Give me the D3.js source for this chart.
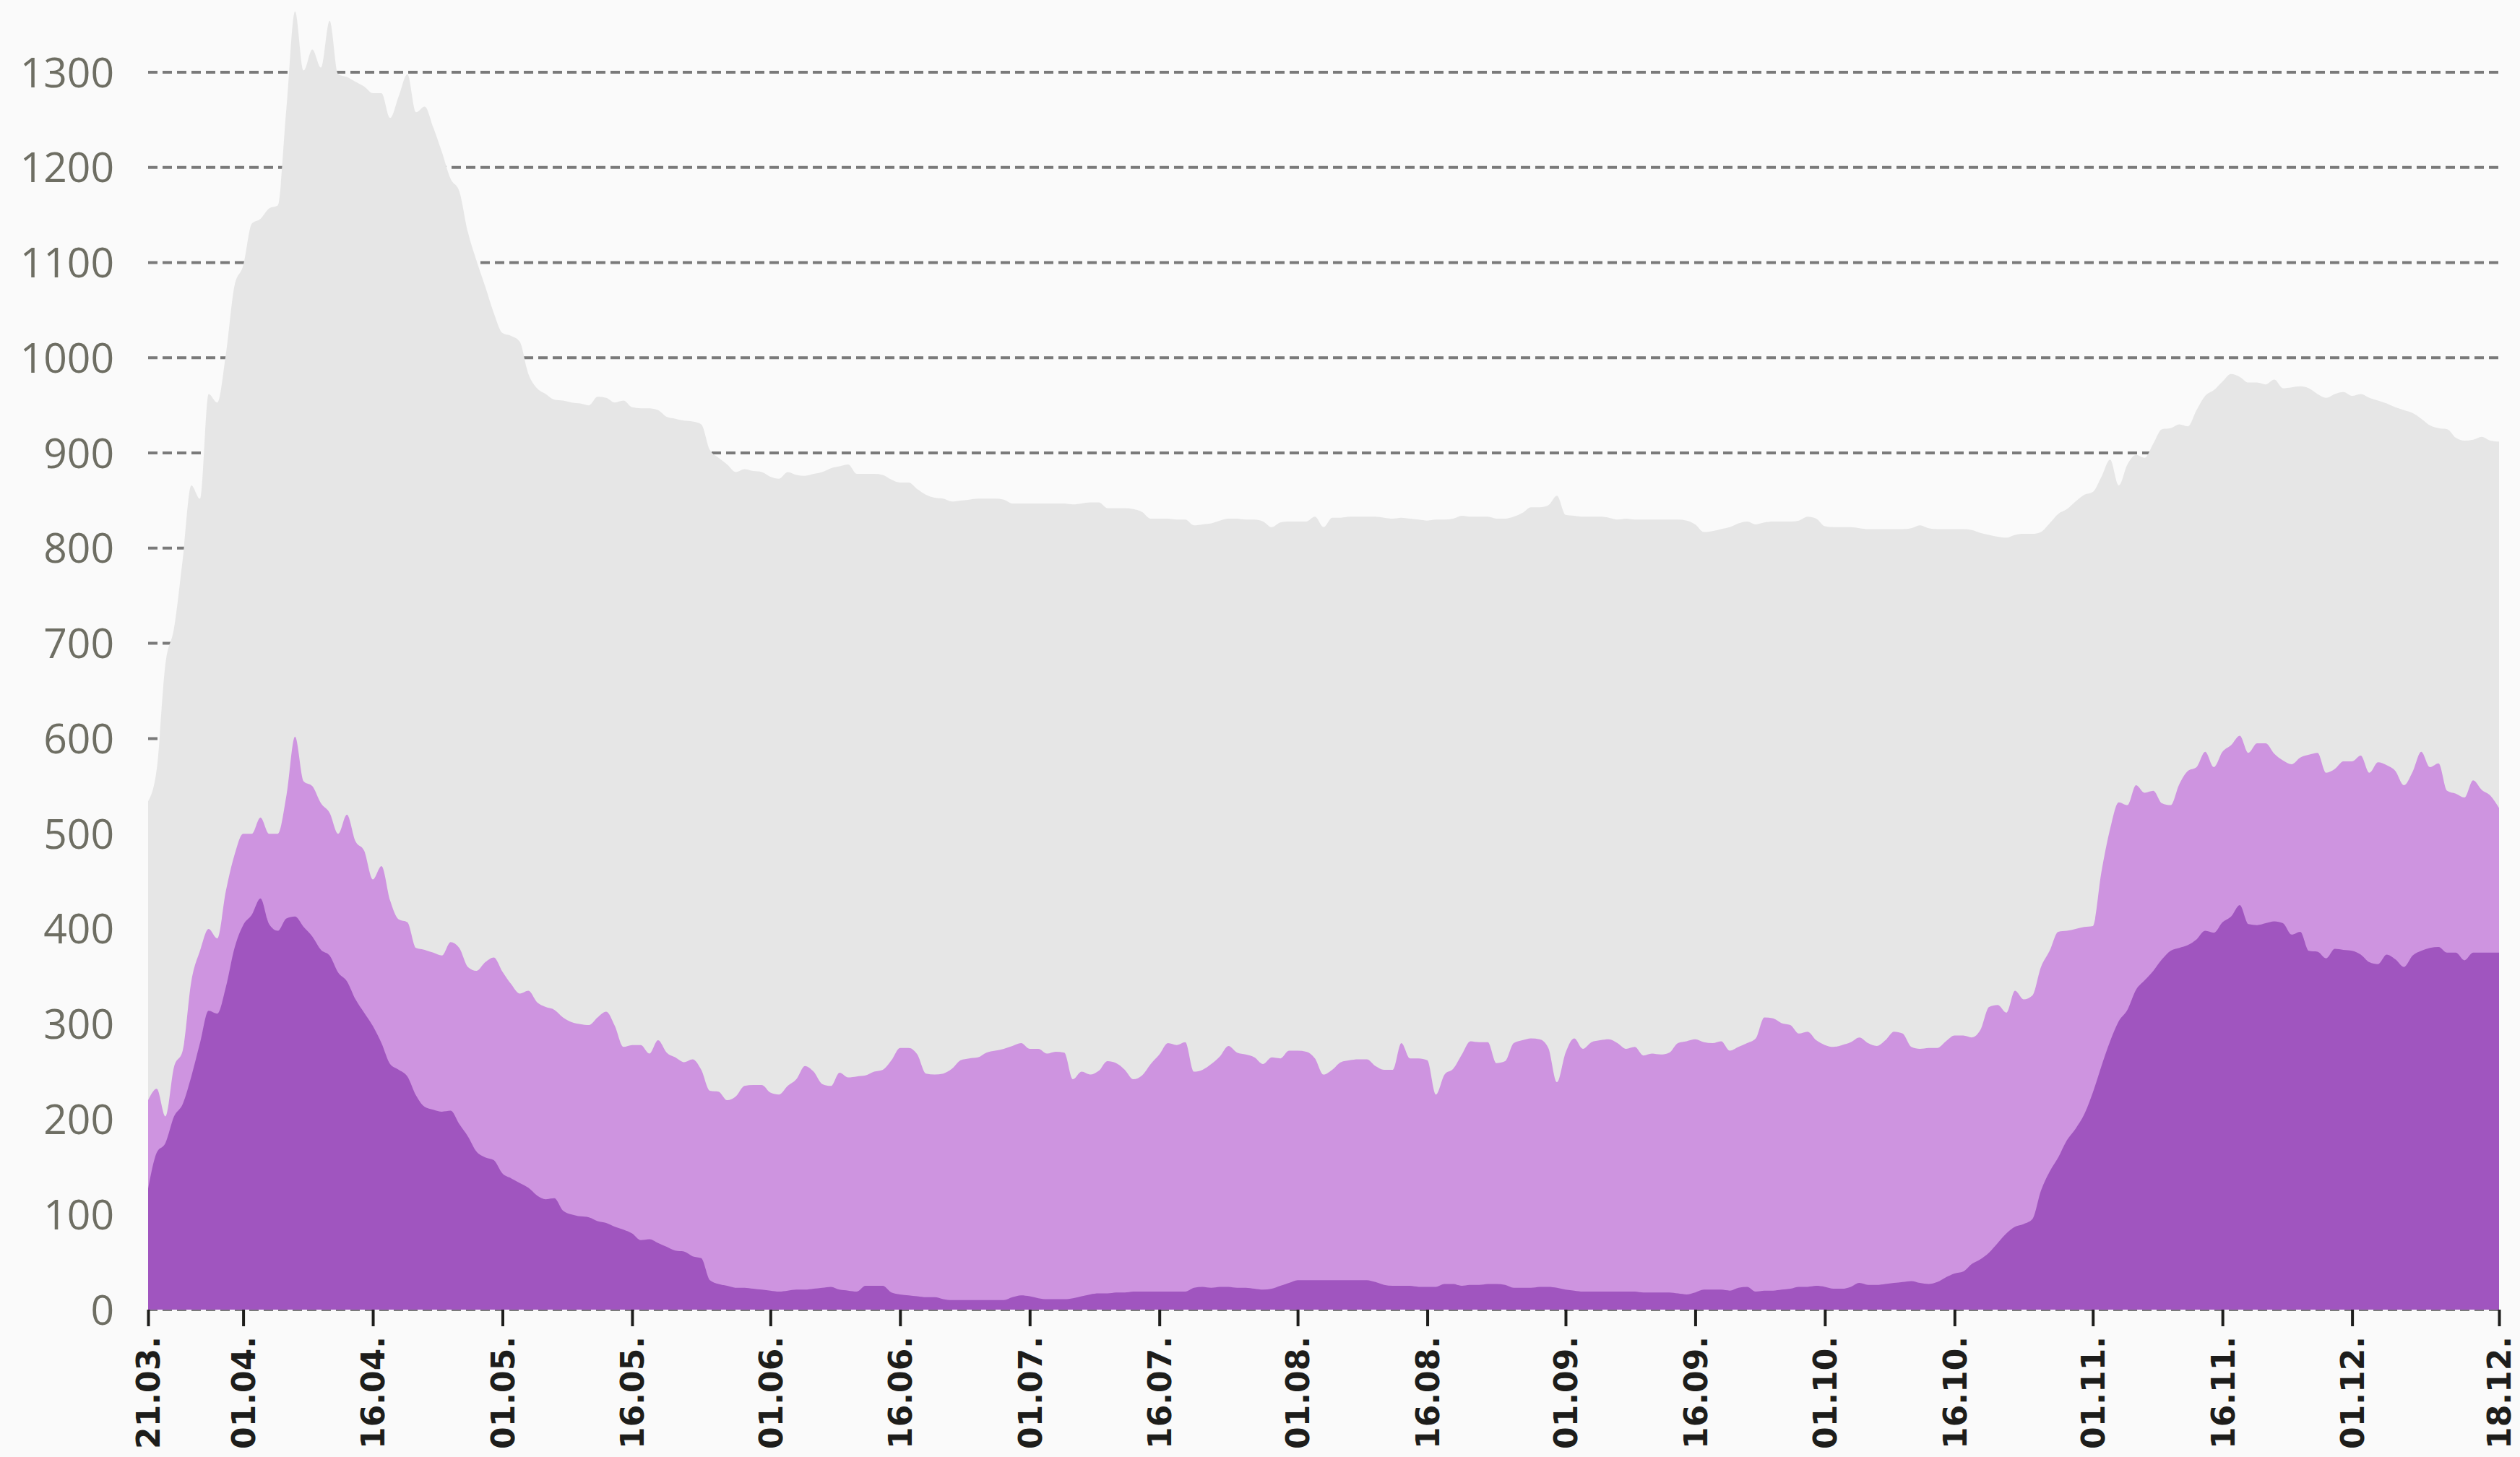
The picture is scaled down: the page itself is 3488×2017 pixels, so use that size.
<!DOCTYPE html>
<html lang="en">
<head>
<meta charset="UTF-8">
<title>Areas 21.03. - 18.12.</title>
<script src="https://d3js.org/d3.v7.min.js"></script>
<style>
  html, body { margin: 0; padding: 0; background: #fafafa; }
  svg { display: block; }
</style>
</head>
<body>
<svg id="chart" width="3488" height="2017"></svg>
<script>
// daily values, first day 21.03.
var firstDay = new Date(2020, 2, 21);
var lastDay = new Date(2020, 11, 18);

var totalVals = [
  534,568,678,716,788,866,852,962,953,1004,
  1076,1097,1141,1146,1157,1160,1262,1364,1302,1324,
  1305,1354,1298,1295,1290,1285,1278,1278,1252,1275,
  1298,1258,1264,1242,1216,1188,1175,1132,1102,1075,
  1047,1026,1023,1017,983,968,962,956,955,953,
  952,950,959,958,953,955,948,947,947,945,
  938,936,934,933,930,903,895,888,880,883,
  881,880,875,873,880,877,876,878,880,884,
  886,888,878,878,878,877,872,869,869,862,
  856,853,852,849,850,851,852,852,852,851,
  847,847,847,847,847,847,847,846,847,848,
  848,842,842,842,841,838,831,831,831,830,
  830,824,825,826,829,831,831,830,830,828,
  822,827,828,828,828,833,822,832,832,833,
  833,833,833,832,831,832,831,830,829,830,
  830,831,834,833,833,833,831,831,833,837,
  843,843,845,855,835,834,833,833,833,832,
  830,831,830,830,830,830,830,830,829,825,
  817,818,820,822,826,828,825,827,828,828,
  828,829,833,831,823,822,822,822,821,820,
  820,820,820,820,821,824,821,820,820,820,
  820,819,816,814,812,811,814,815,815,817,
  826,836,841,849,856,859,875,893,866,888,
  898,895,910,925,926,930,928,945,960,966,
  975,983,980,974,974,972,977,968,969,970,
  968,962,958,962,964,960,962,958,955,952,
  948,945,942,936,929,926,925,916,913,914,
  917,913,912
];

var middleVals = [
  220,232,203,255,272,345,377,400,390,440,
  478,500,500,517,500,500,540,602,555,550,
  532,522,500,520,492,482,452,466,430,410,
  407,380,378,375,372,386,380,360,356,365,
  370,355,342,332,335,323,318,315,307,302,
  300,299,307,313,298,276,278,278,269,283,
  270,265,260,263,252,230,229,220,224,235,
  236,236,228,226,235,242,256,250,237,235,
  249,244,245,246,250,252,262,275,275,268,
  248,247,248,253,262,264,265,270,272,274,
  277,280,274,274,269,271,270,242,250,247,
  251,261,259,252,242,246,258,268,280,278,
  281,250,252,258,266,277,270,268,265,258,
  265,264,272,272,271,264,247,252,260,262,
  263,263,256,252,252,280,264,264,262,226,
  247,253,268,282,281,281,259,261,280,283,
  285,284,275,239,270,285,274,281,283,284,
  280,274,276,267,269,268,270,280,282,284,
  281,280,282,272,276,280,285,307,306,301,
  299,290,292,283,278,276,278,281,286,280,
  277,283,292,290,276,274,275,275,282,288,
  288,286,294,318,320,312,335,326,330,360,
  377,397,398,400,402,403,460,505,533,530,
  551,543,545,532,530,552,566,570,586,570,
  586,593,603,585,595,595,584,577,573,580,
  583,585,564,568,576,576,582,564,575,572,
  566,551,565,586,570,574,545,542,538,556,
  546,540,527
];

var bottomVals = [
  127,165,175,203,216,245,280,314,311,339,
  380,404,415,432,405,398,411,413,402,392,
  378,372,354,345,326,312,298,280,258,252,
  245,225,213,210,208,209,195,182,166,160,
  157,143,138,133,128,120,116,117,104,100,
  98,97,93,91,87,84,80,73,74,70,
  66,62,61,56,54,31,27,25,23,23,
  22,21,20,19,20,21,21,22,23,24,
  21,20,19,25,25,25,18,16,15,14,
  13,13,11,10,10,10,10,10,10,10,
  13,15,14,12,11,11,11,12,14,16,
  17,17,18,18,19,19,19,19,19,19,
  19,23,24,23,24,24,23,23,22,21,
  22,25,28,31,31,31,31,31,31,31,
  31,31,29,26,25,25,25,24,24,24,
  27,27,25,26,26,27,27,26,23,23,
  23,24,24,23,21,20,19,19,19,19,
  19,19,19,18,18,18,18,17,16,18,
  21,21,21,20,23,24,19,20,20,21,
  22,24,24,25,24,22,22,24,28,26,
  26,27,28,29,30,28,27,29,34,38,
  40,48,53,60,70,80,87,90,95,125,
  145,160,178,190,205,228,256,282,303,315,
  336,346,356,368,377,380,383,389,398,396,
  407,413,425,405,404,406,408,406,394,397,
  377,376,369,379,378,377,373,365,363,373,
  368,360,372,377,380,381,375,375,367,375,
  375,375,375
];

var tickDays = [
  [2020, 2, 21], [2020, 3, 1], [2020, 3, 16], [2020, 4, 1], [2020, 4, 16],
  [2020, 5, 1], [2020, 5, 16], [2020, 6, 1], [2020, 6, 16], [2020, 7, 1],
  [2020, 7, 16], [2020, 8, 1], [2020, 8, 16], [2020, 9, 1], [2020, 9, 16],
  [2020, 10, 1], [2020, 10, 16], [2020, 11, 1], [2020, 11, 18]
];
var yTicks = [0, 100, 200, 300, 400, 500, 600, 700, 800, 900, 1000, 1100, 1200, 1300];

var svg = d3.select("#chart"),
    width = +svg.attr("width"),
    height = +svg.attr("height");

// plot box (note: "top" is a reserved window property, so use other names)
var plotLeft = 205, plotRight = 3459, plotTop = 100, plotBottom = 1813;

var dates = totalVals.map(function (d, i) { return d3.timeDay.offset(firstDay, i); });

var x = d3.scaleTime()
    .domain([firstDay, lastDay])
    .range([plotLeft, plotRight]);

var y = d3.scaleLinear()
    .domain([0, 1300])
    .range([plotBottom, plotTop]);

svg.append("rect")
    .attr("width", width)
    .attr("height", height)
    .attr("fill", "#fafafa");

// dashed grid, sits behind the areas
svg.append("g")
    .selectAll("line")
    .data(yTicks)
    .enter()
    .append("line")
    .attr("x1", plotLeft)
    .attr("x2", plotRight)
    .attr("y1", function (d) { return y(d); })
    .attr("y2", function (d) { return y(d); })
    .attr("stroke", "#7a7a7a")
    .attr("stroke-width", 4)
    .attr("stroke-dasharray", "13 7");

var area = d3.area()
    .x(function (d, i) { return x(dates[i]); })
    .y0(y(0))
    .y1(function (d) { return y(d); })
    .curve(d3.curveMonotoneX);

svg.append("path").datum(totalVals).attr("fill", "#e6e6e6").attr("d", area);
svg.append("path").datum(middleVals).attr("fill", "#ce94e0").attr("d", area);
svg.append("path").datum(bottomVals).attr("fill", "#a055bf").attr("d", area);

// y labels
svg.append("g")
    .selectAll("text")
    .data(yTicks)
    .enter()
    .append("text")
    .attr("x", 158)
    .attr("y", function (d) { return y(d); })
    .attr("dy", "0.36em")
    .attr("text-anchor", "end")
    .attr("font-family", "'Open Sans', 'Noto Sans', sans-serif")
    .attr("font-size", 57)
    .attr("fill", "#6e6e63")
    .text(function (d) { return d; });

// x axis
var tickDates = tickDays.map(function (t) { return new Date(t[0], t[1], t[2]); });
var xAxis = d3.axisBottom(x)
    .tickValues(tickDates)
    .tickSize(23)
    .tickFormat(d3.timeFormat("%d.%m."));

var gx = svg.append("g")
    .attr("transform", "translate(0," + plotBottom + ")")
    .call(xAxis);

gx.select(".domain").remove();
gx.selectAll(".tick line")
    .attr("stroke", "#1d1d1b")
    .attr("stroke-width", 4);
gx.selectAll(".tick text")
    .attr("y", 0)
    .attr("dy", "0.36em")
    .attr("transform", "translate(0,37) rotate(-90)")
    .attr("text-anchor", "end")
    .attr("font-family", "'DejaVu Sans', sans-serif")
    .attr("font-weight", "bold")
    .attr("font-size", 44)
    .attr("fill", "#1d1d1b");
</script>
</body>
</html>
